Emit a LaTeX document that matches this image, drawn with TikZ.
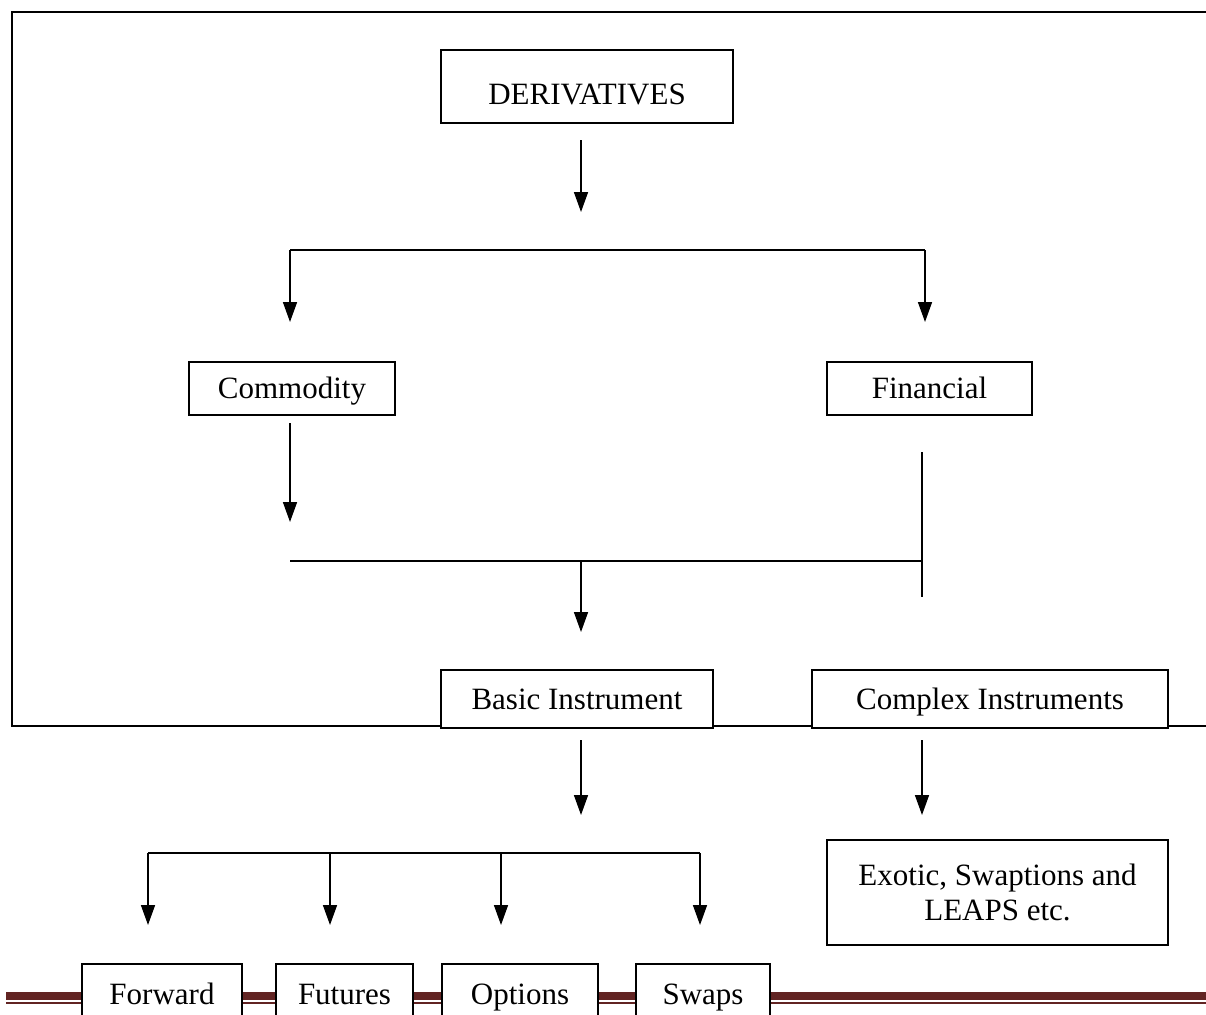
\documentclass[tikz,border=0pt]{standalone}
\usepackage{fontspec}
\setmainfont{Liberation Serif}
\usetikzlibrary{arrows.meta}
\definecolor{barred}{HTML}{622423}
\tikzstyle{cbox}=[rectangle, draw, line width=1.6pt, fill=white, inner sep=0pt, font=\fontsize{31}{36}\selectfont]
\tikzstyle{cline}=[text height=24pt, text depth=4pt]
\tikzstyle{arr}=[line width=1.6pt, -{Triangle[width=14pt,length=20pt]}]
\tikzstyle{ln}=[line width=1.6pt]

\begin{document}
\begin{tikzpicture}[x=1pt, y=-1pt]
\useasboundingbox (0,0) rectangle (1206,1014);

% frame and bottom rule
\draw[ln, line width=2pt] (1206,12) -- (12,12) -- (12,726) -- (1206,726);
\draw[barred, line width=8pt] (6,996) -- (1206,996);
\draw[barred, line width=2pt] (6,1003) -- (1206,1003);

\node[cbox, text height=40pt, text depth=4pt, minimum width=292pt, minimum height=73pt] (der) at (587,86.5) {DERIVATIVES};
\node[cbox, cline, minimum width=206pt, minimum height=53pt] (com) at (292,388.5) {Commodity};
\node[cbox, cline, minimum width=205pt, minimum height=53pt] (fin) at (929.5,388.5) {Financial};
\node[cbox, cline, minimum width=272pt, minimum height=58pt] (bas) at (577,699) {Basic Instrument};
\node[cbox, cline, minimum width=356pt, minimum height=58pt] (cpx) at (990,699) {Complex Instruments};
\node[cbox, minimum width=341pt, minimum height=105pt, align=center] (exo) at (997.5,892.5) {Exotic, Swaptions and\\[-1pt] LEAPS etc.};

\node[cbox, cline, minimum width=160pt, minimum height=60pt] (fwd) at (162,994) {Forward};
\node[cbox, cline, minimum width=137pt, minimum height=60pt] (fut) at (344.5,994) {Futures};
\node[cbox, cline, minimum width=156pt, minimum height=60pt] (opt) at (520,994) {Options};
\node[cbox, cline, minimum width=134pt, minimum height=60pt] (swp) at (703,994) {Swaps};

% first level
\coordinate (a1) at (581,140);
\coordinate (a2) at (581,212);
\draw[arr] (a1) -- (a2);
\coordinate (bl) at (290,250);
\coordinate (br) at (925,250);
\coordinate (bl2) at (290,322);
\coordinate (br2) at (925,322);
\draw[ln] (bl) -- (br);
\draw[arr] (bl) -- (bl2);
\draw[arr] (br) -- (br2);

% joining commodity and financial
\coordinate (c1) at (290,423);
\coordinate (c2) at (290,522);
\draw[arr] (c1) -- (c2);
\coordinate (jl) at (290,561);
\coordinate (jr) at (922,561);
\coordinate (ft) at (922,452);
\coordinate (fb) at (922,597);
\draw[ln] (jl) -- (jr);
\draw[ln] (ft) -- (fb);
\coordinate (jm) at (581,561);
\coordinate (jm2) at (581,632);
\draw[arr] (jm) -- (jm2);

% below instruments
\coordinate (d1) at (581,740);
\coordinate (d2) at (581,815);
\draw[arr] (d1) -- (d2);
\coordinate (e1) at (922,740);
\coordinate (e2) at (922,815);
\draw[arr] (e1) -- (e2);

\coordinate (kl) at (148,853);
\coordinate (kr) at (700,853);
\draw[ln] (kl) -- (kr);
\foreach \x in {148,330,501,700}
  \draw[arr] (\x,853) -- (\x,925);

\end{tikzpicture}
\end{document}
